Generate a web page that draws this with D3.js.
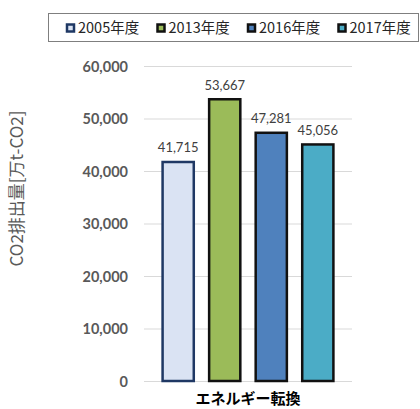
<!DOCTYPE html>
<html>
<head>
<meta charset="utf-8">
<script src="https://cdn.jsdelivr.net/npm/d3@7/dist/d3.min.js"></script>
<style>
  html, body { margin: 0; padding: 0; background: #fff; }
  svg { display: block; }
</style>
</head>
<body>
<svg id="chart" width="420" height="409"></svg>
<script>
// Sector and fiscal-year series
const categories = ["エネルギー転換"];
const seriesNames = ["2005年度", "2013年度", "2016年度", "2017年度"];
const values = [41715, 53667, 47281, 45056];
const yTicks = [0, 10000, 20000, 30000, 40000, 50000, 60000];
const fills = ["#DAE3F3", "#9BBB59", "#4F81BD", "#4BACC6"];
const strokes = ["#1F3864", "#111111", "#111111", "#111111"];

const svg = d3.select("#chart");
const jpFont = "'Noto Sans CJK JP', 'Noto Sans', sans-serif";
const numFont = "Lato, 'Noto Sans', sans-serif";

const plot = { left: 144, right: 352, top: 66, bottom: 381 };

const y = d3.scaleLinear().domain([0, 60000]).range([plot.bottom, plot.top]);
const x0 = d3.scaleBand().domain(categories).range([plot.left, plot.right]).paddingInner(0).paddingOuter(0.06);
const x1 = d3.scaleBand().domain(seriesNames).range([0, x0.bandwidth()]).paddingInner(0.33).paddingOuter(0.16);

// Horizontal gridlines
svg.append("g")
  .selectAll("line")
  .data(yTicks)
  .join("line")
  .attr("x1", plot.left).attr("x2", plot.right)
  .attr("y1", d => y(d) + 0.5).attr("y2", d => y(d) + 0.5)
  .attr("stroke", "#D9D9D9").attr("stroke-width", 1);

// Y axis tick labels
const yAxis = d3.axisLeft(y).tickValues(yTicks).tickSize(0).tickPadding(0)
  .tickFormat(d3.format(","));
const gy = svg.append("g").attr("transform", `translate(${plot.left - 16},0)`).call(yAxis);
gy.select(".domain").remove();
gy.selectAll("text")
  .attr("font-family", numFont).attr("font-size", 14.5).attr("font-weight", "bold")
  .attr("fill", "#595959").attr("dy", "0.35em");

// Y axis title
svg.append("text")
  .attr("transform", `translate(23,${(plot.top + plot.bottom) / 2 - 35}) rotate(-90)`)
  .attr("text-anchor", "middle")
  .attr("font-family", jpFont).attr("font-size", 17)
  .attr("fill", "#595959")
  .text("CO2排出量[万t-CO2]");

// Bars
const rows = seriesNames.map((s, i) => ({ cat: categories[0], series: s, value: values[i], i }));
const g = svg.append("g");
g.selectAll("rect")
  .data(rows)
  .join("rect")
  .attr("x", d => x0(d.cat) + x1(d.series))
  .attr("width", x1.bandwidth())
  .attr("y", d => y(d.value))
  .attr("height", d => y(0) - y(d.value))
  .attr("fill", d => fills[d.i])
  .attr("stroke", d => strokes[d.i])
  .attr("stroke-width", 2.5);

// Value labels
g.selectAll("text.val")
  .data(rows)
  .join("text")
  .attr("class", "val")
  .attr("x", d => x0(d.cat) + x1(d.series) + x1.bandwidth() / 2)
  .attr("y", d => y(d.value) - 9.5)
  .attr("text-anchor", "middle")
  .attr("font-family", numFont).attr("font-size", 13)
  .attr("fill", "#404040")
  .text(d => d3.format(",")(d.value));

// Category label
svg.append("text")
  .attr("x", x0(categories[0]) + x0.bandwidth() / 2)
  .attr("y", 404)
  .attr("text-anchor", "middle")
  .attr("font-family", jpFont).attr("font-size", 15).attr("font-weight", "bold")
  .attr("fill", "#000")
  .text(categories[0]);

// Legend
const legend = svg.append("g");
legend.append("rect")
  .attr("x", 48.5).attr("y", 13.5).attr("width", 370).attr("height", 28)
  .attr("fill", "#fff").attr("stroke", "#7F7F7F").attr("stroke-width", 1);
const legendX = [66, 156.5, 247, 337.5];
const items = legend.selectAll("g.item")
  .data(rows)
  .join("g")
  .attr("class", "item")
  .attr("transform", (d, i) => `translate(${legendX[i]},28)`);
items.append("rect")
  .attr("x", 1).attr("y", -3.5).attr("width", 7).attr("height", 7)
  .attr("fill", d => fills[d.i])
  .attr("stroke", d => d.i === 0 ? "#1F3864" : "#111111")
  .attr("stroke-width", 2.5);
items.append("text")
  .attr("x", 12).attr("y", 0).attr("dy", "0.36em")
  .attr("font-family", jpFont).attr("font-size", 14.5)
  .attr("fill", "#262626")
  .text(d => d.series);
</script>
</body>
</html>
